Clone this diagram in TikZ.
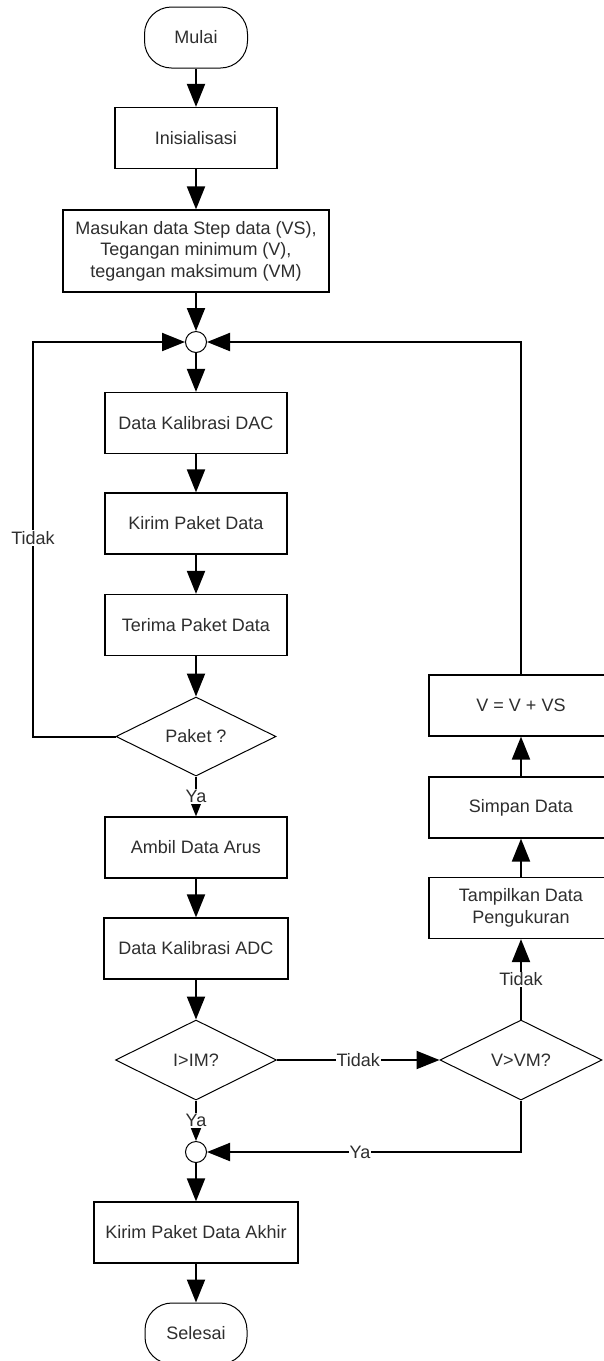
\documentclass[tikz,border=0pt]{standalone}
\usepackage{fontspec}
\setmainfont{Liberation Sans}
\usetikzlibrary{shapes.geometric,arrows.meta}
\begin{document}
\begin{tikzpicture}[x=1pt,y=-1pt,
  every node/.style={font=\fontsize{18}{21.5}\selectfont, text=black!82},
  proc/.style={draw, line width=1.2pt, minimum height=61pt, inner sep=2pt, align=center, fill=white},
  term/.style={draw, line width=1pt, rounded corners=27pt, minimum width=103pt, minimum height=61pt},
  dec/.style={draw, diamond, aspect=2, inner sep=0pt, line width=1pt, minimum width=161pt, minimum height=80pt},
  junc/.style={draw, circle, minimum size=21pt, inner sep=0pt, line width=1pt},
  conn/.style={line width=2pt, -{Triangle[length=23pt,width=18pt]}},
  lbl/.style={fill=white, inner sep=1pt}
]
\useasboundingbox (0,0) rectangle (603,1361);

\node[term] (mulai) at (196,37.5) {Mulai};
\node[proc, minimum width=162pt] (init) at (196,138) {Inisialisasi};
\node[proc, minimum width=266pt, minimum height=82pt] (input) at (196,251) {Masukan data Step data (VS),\\Tegangan minimum (V),\\tegangan maksimum (VM)};
\node[junc] (j1) at (196,342) {};
\node[proc, minimum width=182pt] (dac) at (196,423) {Data Kalibrasi DAC};
\node[proc, minimum width=182pt] (kirim) at (196,523.5) {Kirim Paket Data};
\node[proc, minimum width=182pt] (terima) at (196,625) {Terima Paket Data};
\node[dec, minimum width=160pt, minimum height=79pt] (paket) at (196,736.5) {Paket ?};
\node[proc, minimum width=182pt] (ambil) at (196,847.5) {Ambil Data Arus};
\node[proc, minimum width=184pt] (adc) at (196,948.5) {Data Kalibrasi ADC};
\node[dec] (im) at (196,1060) {I>IM?};
\node[dec, minimum width=162pt] (vm) at (521,1060) {V>VM?};
\node[junc] (j2) at (196,1152) {};
\node[proc, minimum width=204pt] (akhir) at (196,1232.5) {Kirim Paket Data Akhir};
\node[term, minimum width=102pt] (selesai) at (196,1333.5) {Selesai};

\node[proc, minimum width=184pt] (vv) at (521,705.5) {V = V + VS};
\node[proc, minimum width=184pt] (simpan) at (521,807.5) {Simpan Data};
\node[proc, minimum width=184pt] (tamp) at (521,908) {Tampilkan Data\\Pengukuran};

\coordinate (lb) at (33,736.5);
\coordinate (lt) at (33,342);

\draw[conn] (mulai) -- (init);
\draw[conn] (init) -- (input);
\draw[conn] (input) -- (j1);
\draw[conn] (j1) -- (dac);
\draw[conn] (dac) -- (kirim);
\draw[conn] (kirim) -- (terima);
\draw[conn] (terima) -- (paket);
\draw[conn] (paket.west) -- (lb) -- (lt) -- (j1.west);
\node[lbl] (tidak1) at (33,538) {Tidak};
\draw[conn] (paket.south) -- (ambil.north) node[lbl, midway] (ya1) {Ya};
\draw[conn] (ambil) -- (adc);
\draw[conn] (adc) -- (im);
\draw[conn] (im.east) -- (vm.west) node[lbl, midway] (tidak2) {Tidak};
\draw[conn] (vm.north) -- (tamp.south) node[lbl, midway] (tidak3) {Tidak};
\draw[conn] (tamp) -- (simpan);
\draw[conn] (simpan) -- (vv);
\draw[conn] (vv.north) -- (vv.north |- j1.center) -- (j1.east);
\draw[conn] (im.south) -- (j2.north) node[lbl, midway] (ya2) {Ya};
\draw[conn] (vm.south) |- (j2.east);
\node[lbl] (ya3) at (360,1152) {Ya};
\draw[conn] (j2) -- (akhir);
\draw[conn] (akhir) -- (selesai);
\end{tikzpicture}
\end{document}
